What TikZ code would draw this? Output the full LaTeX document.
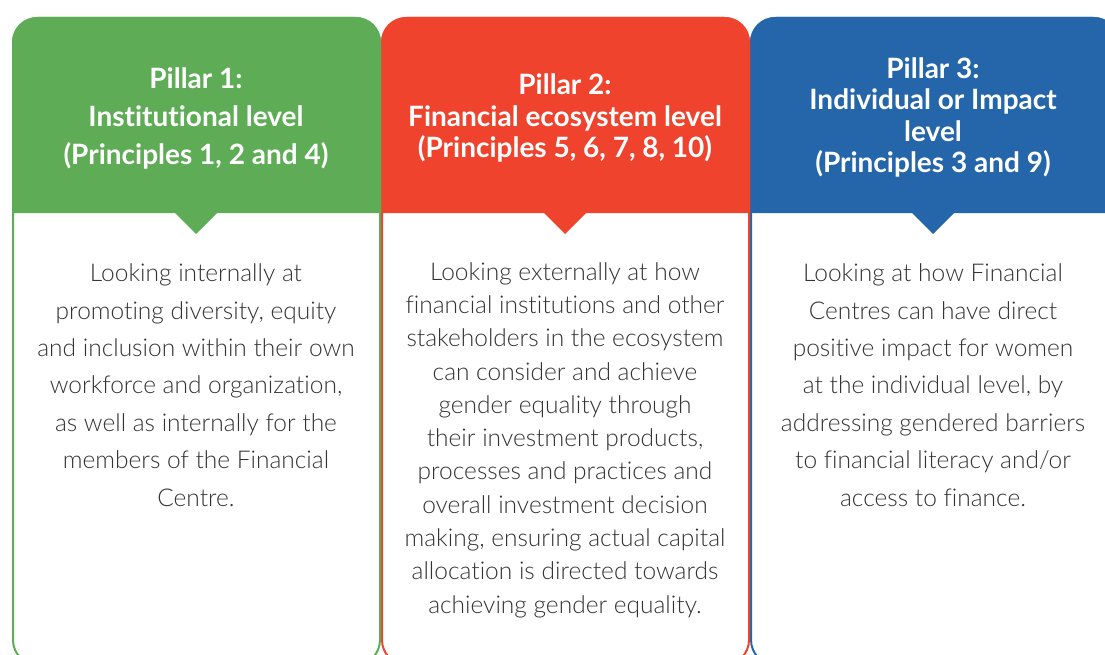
\documentclass[tikz,border=0pt]{standalone}
\usepackage{fontspec}
\setmainfont{Lato}[Ligatures={NoCommon}]
\newfontfamily\bodyfont{Lato Light}[Ligatures={NoCommon}]
\definecolor{pgreen}{RGB}{94,173,86}
\definecolor{pred}{RGB}{239,67,46}
\definecolor{pblue}{RGB}{36,102,169}
\definecolor{bodygray}{RGB}{51,51,51}
\tikzset{
  cardline/.style={line width=2pt, rounded corners=25pt},
  htext/.style={text=white, font=\bfseries\fontsize{28}{31.5}\selectfont, align=center, inner sep=0pt},
  btext/.style={text=bodygray, font=\bodyfont\fontsize{24.5}{37.4}\selectfont, align=center, inner sep=0pt},
}
\begin{document}
\begin{tikzpicture}[x=1pt,y=-1pt]
\useasboundingbox (0,0) rectangle (1105,655);
\clip (0,0) rectangle (1105,655);
% blue card
\draw[cardline, pblue] (751,665) rectangle (1118,18);
\fill[pblue] (750,213) [rounded corners=25pt] -- (750,17) -- (1119,17) [sharp corners] -- (1119,213) -- cycle;
\fill[pblue] (911,212) -- (933,234) -- (955,212) -- cycle;
% red card
\draw[cardline, pred] (382,665) rectangle (749,18);
\fill[pred] (381,213) [rounded corners=25pt] -- (381,17) -- (750,17) [sharp corners] -- (750,213) -- cycle;
\fill[pred] (543,212) -- (565,234) -- (587,212) -- cycle;
% green card
\draw[cardline, pgreen] (13,665) rectangle (380,18);
\fill[pgreen] (12,213) [rounded corners=25pt] -- (12,17) -- (381,17) [sharp corners] -- (381,213) -- cycle;
\fill[pgreen] (174,212) -- (196,234) -- (218,212) -- cycle;
% headers
\node[htext, font=\bfseries\fontsize{28}{38}\selectfont] (h1) at (196,118.5) {Pillar 1:\\Institutional level\\(Principles 1, 2 and 4)};
\node[htext] (h2) at (565,118) {Pillar 2:\\Financial ecosystem level\\(Principles 5, 6, 7, 8, 10)};
\node[htext] (h3) at (933,117.5) {Pillar 3:\\Individual or Impact\\level\\(Principles 3 and 9)};
% bodies
\node[btext] (b1) at (196,385) {Looking internally at\\promoting diversity, equity\\and inclusion within their own\\workforce and organization,\\as well as internally for the\\members of the Financial\\Centre.};
\node[btext, font=\bodyfont\fontsize{24.5}{33.3}\selectfont] (b2) at (565,440) {Looking externally at how\\financial institutions and other\\stakeholders in the ecosystem\\can consider and achieve\\gender equality through\\their investment products,\\processes and practices and\\overall investment decision\\making, ensuring actual capital\\allocation is directed towards\\achieving gender equality.};
\node[btext] (b3) at (933,385) {Looking at how Financial\\Centres can have direct\\positive impact for women\\at the individual level, by\\addressing gendered barriers\\to financial literacy and/or\\access to finance.};
\end{tikzpicture}
\end{document}
